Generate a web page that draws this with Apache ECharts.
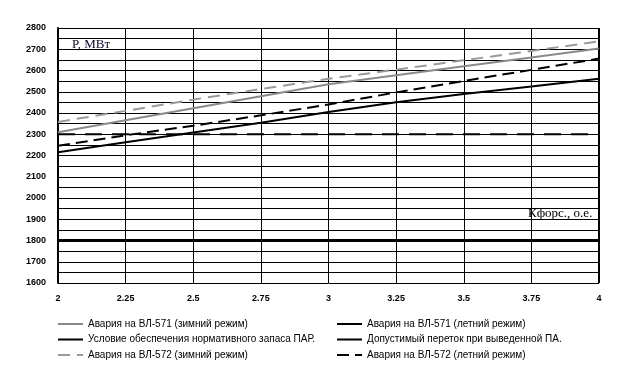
<!DOCTYPE html>
<html>
<head>
<meta charset="utf-8">
<script src="https://cdn.jsdelivr.net/npm/echarts@6/dist/echarts.min.js"></script>
<style>html,body{margin:0;padding:0;background:#fff;}#c{width:623px;height:388px;}</style>
</head>
<body>
<div id="c"></div>
<script>
var xValues = [2, 2.25, 2.5, 2.75, 3, 3.25, 3.5, 3.75, 4];
var names = [
  'Авария на ВЛ-571 (зимний режим)',
  'Авария на ВЛ-571 (летний режим)',
  'Условие обеспечения нормативного запаса ПАР.',
  'Допустимый переток при выведенной ПА.',
  'Авария на ВЛ-572 (зимний режим)',
  'Авария на ВЛ-572 (летний режим)'
];
var winter571 = [2309, 2366, 2422, 2479, 2535, 2578, 2620, 2661, 2703];
var summer571 = [2215, 2262, 2308, 2354, 2405, 2451, 2489, 2525, 2561];
var reserveCond = [1800, 1800, 1800, 1800, 1800, 1800, 1800, 1800, 1800];
var allowedFlow = [2300, 2300, 2300, 2300, 2300, 2300, 2300, 2300, 2300];
var winter572 = [2358, 2410, 2463, 2513, 2561, 2604, 2648, 2692, 2737];
var summer572 = [2246, 2295, 2340, 2389, 2440, 2497, 2551, 2603, 2656];
var yTickLabels = [1600, 1700, 1800, 1900, 2000, 2100, 2200, 2300, 2400, 2500, 2600, 2700, 2800];

function pairs(arr) { return xValues.map(function (x, i) { return [x, arr[i]]; }); }
function line(name, arr, color, width, type) {
  return { name: name, type: 'line', data: pairs(arr), symbol: 'none', showSymbol: false, silent: true,
    animation: false, lineStyle: { color: color, width: width, type: type }, itemStyle: { color: color } };
}
var chart = echarts.init(document.getElementById('c'));
var legendText = { fontFamily: 'Liberation Sans', fontSize: 10, color: '#000' };
var legendBase = { orient: 'vertical', top: 319, padding: 0, itemWidth: 25, itemHeight: 10, itemGap: 5.5,
  textStyle: legendText, selectedMode: false, itemStyle: { opacity: 0 } };
chart.setOption({
  animation: false,
  grid: { left: 58, right: 24, top: 28, height: 255 },
  xAxis: {
    type: 'value', min: 2, max: 4, interval: 0.25,
    axisLine: { show: false },
    axisTick: { show: false },
    splitLine: { show: true, lineStyle: { color: '#000', width: 1 } },
    axisLabel: { fontFamily: 'Liberation Sans', fontWeight: 'bold', fontSize: 9, color: '#000', margin: 11 }
  },
  yAxis: {
    type: 'value', min: 1600, max: 2800, interval: 50,
    axisLine: { show: true, lineStyle: { color: '#000', width: 2 } },
    axisTick: { show: false },
    splitLine: { show: true, lineStyle: { color: '#000', width: 1 } },
    axisLabel: {
      fontFamily: 'Liberation Sans', fontWeight: 'bold', fontSize: 9, color: '#000', margin: 12,
      formatter: function (v) { return yTickLabels.indexOf(v) >= 0 ? String(v) : ''; }
    }
  },
  legend: [
    Object.assign({ left: 57, data: [names[0], names[2], names[4]] }, legendBase),
    Object.assign({ left: 336, data: [names[1], { name: names[3], lineStyle: { type: 'solid' } }, names[5]] }, legendBase)
  ],
  series: [
    line(names[2], reserveCond, '#000', 3, 'solid'),
    line(names[3], allowedFlow, '#000', 2, [17, 10]),
    line(names[0], winter571, '#8a8a8a', 2, 'solid'),
    line(names[4], winter572, '#9a9a9a', 2, [12, 7]),
    line(names[1], summer571, '#000', 2, 'solid'),
    line(names[5], summer572, '#000', 2, [12, 6])
  ],
  graphic: [
    { type: 'rect', shape: { x: 598, y: 28, width: 1, height: 255 }, style: { fill: '#000' }, silent: true },
    { type: 'text', left: 70, top: 38, silent: true,
      style: { text: 'P, МВт', fontFamily: 'Liberation Serif', fontSize: 13, fill: '#0a0a30',
        backgroundColor: '#fff', padding: [0, 2] } },
    { type: 'text', left: 526, top: 207, silent: true,
      style: { text: 'Кфорс., о.е.', fontFamily: 'Liberation Serif', fontSize: 13, fill: '#000',
        backgroundColor: '#fff', padding: [0, 2] } }
  ]
});
</script>
</body>
</html>
